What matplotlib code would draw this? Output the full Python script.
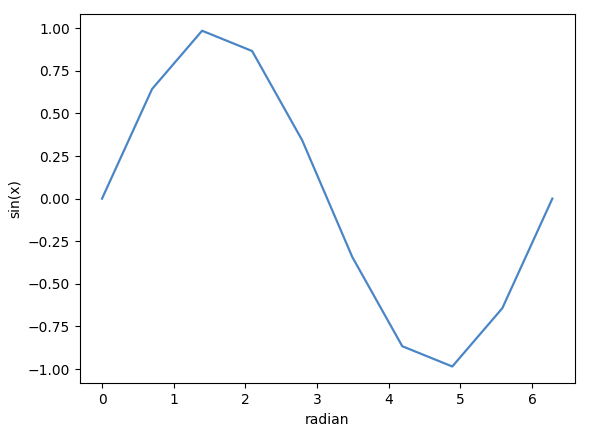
import matplotlib
matplotlib.use("Agg")
import matplotlib.pyplot as plt

radian = [0.0, 0.698, 1.396, 2.094, 2.793, 3.491, 4.189, 4.887, 5.585, 6.283]
sin_x = [0.0, 0.643, 0.985, 0.866, 0.342, -0.342, -0.866, -0.985, -0.643, 0.0]

fig = plt.figure(figsize=(5.89, 4.33), dpi=100)
ax = fig.add_axes([0.135, 0.1148, 0.841, 0.853])
ax.plot(radian, sin_x, color="#4a86c6", linewidth=1.6)
ax.set_xlabel("radian")
ax.set_ylabel("sin(x)")

fig.savefig("out.png", dpi=100)
